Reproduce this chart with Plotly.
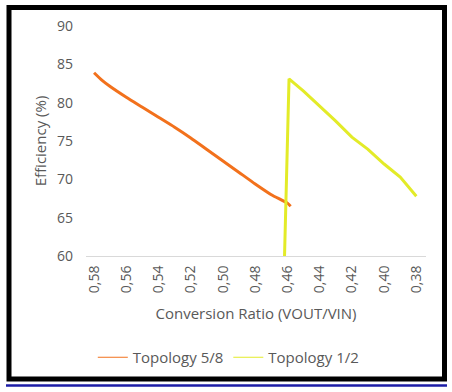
import plotly.graph_objects as go

# Topology 5/8
ratio_58 = [0.58, 0.575, 0.57, 0.56, 0.55, 0.54, 0.53, 0.52, 0.51, 0.50, 0.49, 0.48, 0.47, 0.46, 0.458]
eff_58 = [83.9, 82.9, 82.1, 80.7, 79.4, 78.1, 76.8, 75.4, 73.9, 72.4, 70.9, 69.4, 68.0, 66.9, 66.5]

# Topology 1/2
ratio_12 = [0.463, 0.459, 0.45, 0.44, 0.43, 0.42, 0.41, 0.40, 0.39, 0.38]
eff_12 = [50.0, 83.1, 81.5, 79.6, 77.6, 75.5, 73.9, 72.0, 70.3, 67.8]

x_ticks = [0.58, 0.56, 0.54, 0.52, 0.50, 0.48, 0.46, 0.44, 0.42, 0.40, 0.38]
y_ticks = [60, 65, 70, 75, 80, 85, 90]

orange = "#F2711C"
yellow = "#E3EB28"
font_family = "Open Sans, Liberation Sans, sans-serif"
grey = "#595959"

fig = go.Figure()
fig.add_trace(go.Scatter(x=ratio_58, y=eff_58, mode="lines", line=dict(color=orange, width=3, shape="spline", smoothing=0.6),
                         showlegend=False, cliponaxis=True))
fig.add_trace(go.Scatter(x=ratio_12, y=eff_12, mode="lines", line=dict(color=yellow, width=3),
                         showlegend=False, cliponaxis=True))
fig.add_trace(go.Scatter(x=[None], y=[None], mode="lines", line=dict(color=orange, width=1),
                         name="Topology 5/8"))
fig.add_trace(go.Scatter(x=[None], y=[None], mode="lines", line=dict(color=yellow, width=1),
                         name="Topology 1/2"))

L, R, T, B = 86, 26, 26, 136
W, H = 452, 392
pw, ph = W - L - R, H - T - B

def px(x):
    return (x - L) / pw

def py(y):
    return (H - B - y) / ph

fig.add_shape(type="rect", xref="paper", yref="paper",
              x0=px(9), x1=px(444.5), y0=py(379), y1=py(7.5),
              line=dict(color="black", width=5), fillcolor="rgba(0,0,0,0)", layer="below")
fig.add_shape(type="line", xref="paper", yref="paper",
              x0=px(6), x1=px(447), y0=py(385.5), y1=py(385.5),
              line=dict(color="#1C1CA6", width=2.5))

fig.update_layout(
    width=W, height=H,
    margin=dict(l=L, r=R, t=T, b=B),
    paper_bgcolor="white", plot_bgcolor="white",
    separators=", ",
    font=dict(family=font_family, color=grey, size=13),
    xaxis=dict(range=[0.585, 0.374], tickvals=x_ticks, tickformat=".2f", tickangle=-90,
               showgrid=False, zeroline=False, showline=True, linecolor="#D9D9D9", linewidth=1,
               ticks="", ticklabelstandoff=3, tickfont=dict(size=14, color=grey),
               title=dict(text="Conversion Ratio (VOUT/VIN)", font=dict(size=15, color=grey), standoff=16)),
    yaxis=dict(range=[60, 90], tickvals=y_ticks, showgrid=False, zeroline=False, showline=False,
               ticks="", ticklabelstandoff=12, tickfont=dict(size=14, color=grey),
               title=dict(text="Efficiency (%)", font=dict(size=15, color=grey), standoff=6)),
    legend=dict(orientation="h", x=0.42, xanchor="center", y=py(341), yanchor="top",
                itemwidth=30, font=dict(size=15, color=grey), bgcolor="rgba(0,0,0,0)"),
)

fig.write_html("out.html", config={"displayModeBar": False},
               post_script="document.body.style.margin='0';document.body.style.padding='0';")
